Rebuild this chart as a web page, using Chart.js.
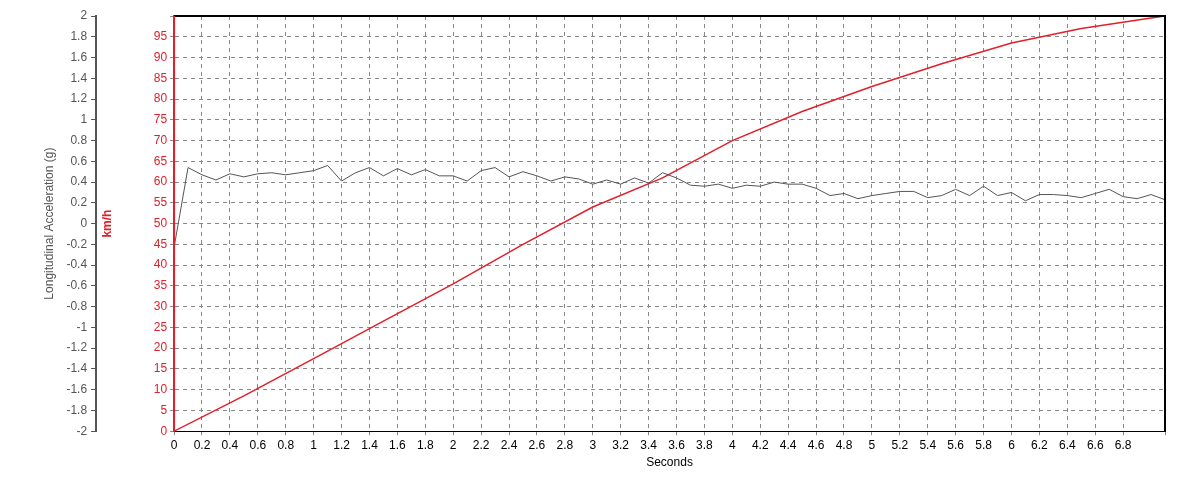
<!DOCTYPE html>
<html><head><meta charset="utf-8">
<script src="https://cdn.jsdelivr.net/npm/chart.js@4"></script>
<style>html,body{margin:0;padding:0;background:#fff;}#w{width:1200px;height:494px;}</style>
</head><body><div id="w"><canvas id="c"></canvas></div>
<script>
const accelTimes = [0,0.1,0.2,0.3,0.4,0.5,0.6,0.7,0.8,0.9,1.0,1.1,1.2,1.3,1.4,1.5,1.6,1.7,1.8,1.9,2.0,2.1,2.2,2.3,2.4,2.5,2.6,2.7,2.8,2.9,3.0,3.1,3.2,3.3,3.4,3.5,3.6,3.7,3.8,3.9,4.0,4.1,4.2,4.3,4.4,4.5,4.6,4.7,4.8,4.9,5.0,5.1,5.2,5.3,5.4,5.5,5.6,5.7,5.8,5.9,6.0,6.1,6.2,6.3,6.4,6.5,6.6,6.7,6.8,6.9,7.0,7.1];
const accelG = [-0.23,0.54,0.47,0.42,0.48,0.45,0.48,0.49,0.47,0.49,0.51,0.56,0.41,0.49,0.54,0.46,0.53,0.47,0.52,0.46,0.46,0.41,0.51,0.54,0.45,0.50,0.46,0.41,0.45,0.43,0.38,0.42,0.38,0.44,0.39,0.49,0.44,0.37,0.36,0.38,0.34,0.37,0.36,0.40,0.38,0.38,0.34,0.27,0.29,0.24,0.27,0.29,0.31,0.31,0.25,0.27,0.33,0.27,0.36,0.27,0.30,0.22,0.28,0.28,0.27,0.25,0.29,0.33,0.26,0.24,0.28,0.23];
const speedTimes = [0,0.5,1.0,1.5,2.0,2.5,3.0,3.5,4.0,4.5,5.0,5.5,6.0,6.5,7.0,7.1];
const speedKmh = [0,8.5,17.5,26.5,35.5,45,54,61,70,77,83,88.5,93.5,97,99.5,100];

const frame = {id:'frame',afterDraw(ch){const a=ch.chartArea,c=ch.ctx;c.save();c.strokeStyle='#000';c.lineWidth=2;c.beginPath();c.moveTo(a.left,a.top);c.lineTo(a.right,a.top);c.lineTo(a.right,a.bottom);c.stroke();c.strokeStyle='#e0202a';c.beginPath();c.moveTo(a.left,a.top);c.lineTo(a.left,a.bottom);c.stroke();c.restore();}};
const font = {family:'"Liberation Sans", Arial, sans-serif', size:12};
new Chart(document.getElementById('c'),{
 type:'line',
 data:{datasets:[
  {label:'Accel',data:accelTimes.map((t,i)=>({x:t,y:accelG[i]})),yAxisID:'g',borderColor:'#555',borderWidth:1,pointRadius:0,tension:0},
  {label:'Speed',data:speedTimes.map((t,i)=>({x:t,y:speedKmh[i]})),yAxisID:'v',borderColor:'#e0202a',borderWidth:1.5,pointRadius:0,tension:0}
 ]},
 options:{responsive:true,maintainAspectRatio:false,animation:false,
  layout:{padding:{left:38,top:16,right:35,bottom:20}},
  plugins:{legend:{display:false},tooltip:{enabled:false}},
  scales:{
   x:{type:'linear',min:0,max:7.1,
      ticks:{stepSize:0.2,color:'#000',font,maxRotation:0,autoSkip:false,callback:v=>v>7.05?'':Math.round(v*10)/10},
      grid:{color:'#888',lineWidth:1,tickLength:4},border:{display:true,color:'#000',dash:[4,4]},
      title:{display:true,text:'Seconds',color:'#000',font,padding:{top:0}}},
   v:{position:'left',min:0,max:100,
      afterFit(s){s.width=78;},
      ticks:{stepSize:5,color:'#e0202a',font,callback:v=>v===100?'':v,padding:3},
      grid:{color:'#888',lineWidth:1,tickLength:4},border:{color:'#e0202a',width:2,dash:[4,4]},
      title:{display:true,text:'km/h',color:'#e0202a',font:{...font,weight:'bold'},padding:{bottom:6}}},
   g:{position:'left',min:-2,max:2,
      ticks:{stepSize:0.2,color:'#555',font,callback:v=>Math.round(v*10)/10,padding:4},
      grid:{display:true,drawOnChartArea:false,color:'#555',tickLength:5},border:{color:'#555',width:2},
      title:{display:true,text:'Longitudinal Acceleration (g)',color:'#555',font,padding:{bottom:6}}}
  }
 },
 plugins:[frame]
});
</script>
</body></html>
